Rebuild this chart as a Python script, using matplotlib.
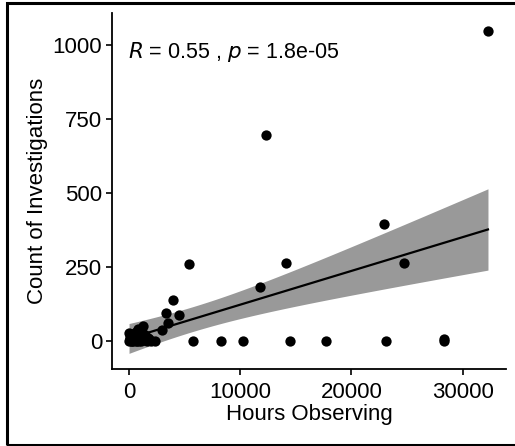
import numpy as np
import matplotlib
matplotlib.use("Agg")
import matplotlib.pyplot as plt
from matplotlib.patches import Rectangle

plt.rcParams['font.family'] = ['Liberation Sans', 'DejaVu Sans']

# Observation effort (hours) and number of investigations per site
hours = [
    0, 0, 50, 100, 150, 200, 250, 300, 350, 400, 450, 500, 600, 650, 700,
    750, 800, 850, 900, 950, 1000, 1050, 1100, 1150, 1200, 1290, 1300, 1400,
    1500, 1600, 1700, 1800, 2000, 2340,
    2970, 3330, 3530, 3990, 4500, 5400, 5720, 8300, 10220, 11780, 12290,
    14150, 14500, 17750, 22950, 23080, 24730, 28330, 28330, 32280,
]
investigations = [
    27, 0, 12, 5, 0, 18, 0, 10, 25, 0, 22, 15, 0, 30, 3,
    0, 20, 40, 0, 12, 8, 35, 0, 15, 30, 51, 4, 20,
    12, 0, 10, 5, 0, 0,
    37, 93, 62, 137, 89, 259, 0, 0, 0, 181, 695,
    263, 0, 0, 396, 0, 263, 0, 6, 1047,
]

x_ticks = [0, 10000, 20000, 30000]
y_ticks = [0, 250, 500, 750, 1000]
stat_label = "$R$ = 0.55 , $p$ = 1.8e-05"

x = np.asarray(hours, float)
y = np.asarray(investigations, float)

# Ordinary least squares fit with 95% confidence band
n = len(x)
slope, intercept = np.polyfit(x, y, 1)
resid = y - (intercept + slope * x)
s = np.sqrt(np.sum(resid ** 2) / (n - 2))
t_crit = 2.007
xs = np.linspace(x.min(), x.max(), 200)
fit = intercept + slope * xs
se = s * np.sqrt(1.0 / n + (xs - x.mean()) ** 2 / np.sum((x - x.mean()) ** 2))

fig = plt.figure(figsize=(5.15, 4.46), dpi=100)
ax = fig.add_axes([0.2175, 0.1726, 0.765, 0.7983])

ax.fill_between(xs, fit - t_crit * se, fit + t_crit * se, color='#999999',
                linewidth=0, zorder=1)
ax.plot(xs, fit, color='black', linewidth=1.6, zorder=2)
ax.scatter(x, y, s=55, color='black', linewidths=0, zorder=3)

ax.set_xlim(-1530, 33900)
ax.set_ylim(-95, 1108)
ax.set_xticks(x_ticks)
ax.set_yticks(y_ticks)
ax.tick_params(axis='both', labelsize=16, colors='black', length=4,
               width=1.2, direction='out')
ax.tick_params(axis='x', pad=5)
ax.tick_params(axis='y', pad=3)
for side in ('top', 'right'):
    ax.spines[side].set_visible(False)
for side in ('left', 'bottom'):
    ax.spines[side].set_linewidth(1.3)

ax.set_xlabel("Hours Observing", fontsize=16, labelpad=1)
ax.set_ylabel("Count of Investigations", fontsize=16, labelpad=3)

ax.text(0.041, 0.89, stat_label, transform=ax.transAxes, fontsize=15.5,
        ha='left', va='center')

# Outer frame around the figure
fig.patches.append(Rectangle((7 / 515, 1 / 446), 1.2, 442 / 446,
                             transform=fig.transFigure, fill=False,
                             edgecolor='black', linewidth=2.2))

fig.savefig("out.png", dpi=100)
